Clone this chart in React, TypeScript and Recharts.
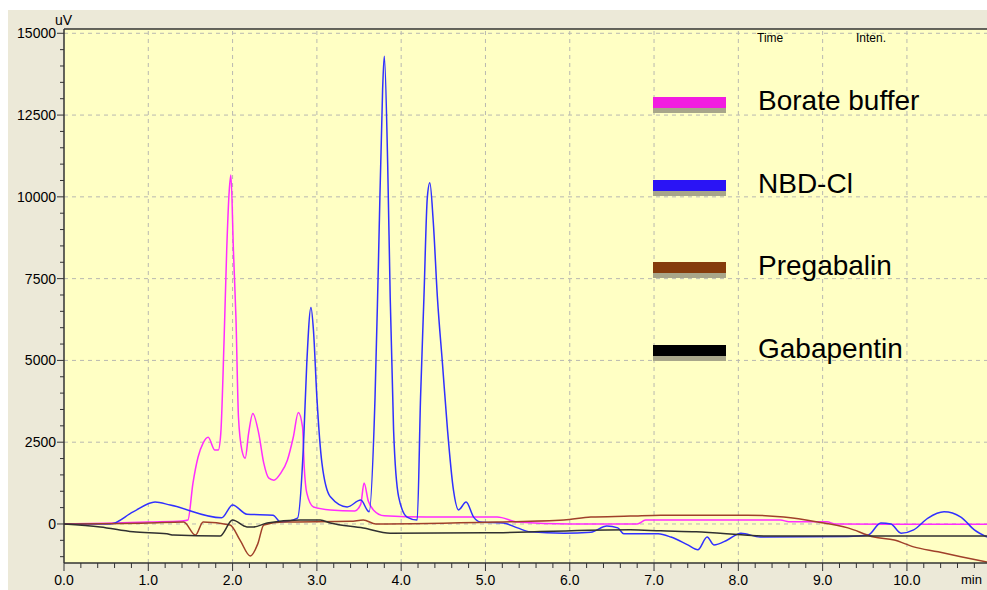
import React from "react";
import { LineChart, Line, XAxis, YAxis, ReferenceLine, ReferenceArea } from "recharts";

// retention time (min) / intensity (uV)
const borateTime = [0, 0.5, 1.0, 1.4, 1.47, 1.53, 1.59, 1.65, 1.71, 1.79, 1.83, 1.86, 1.9, 1.93, 1.96, 1.98, 2.01, 2.04, 2.07, 2.11, 2.15, 2.19, 2.24, 2.31, 2.37, 2.43, 2.49, 2.57, 2.65, 2.72, 2.78, 2.83, 2.85, 2.88, 2.96, 3.16, 3.45, 3.52, 3.56, 3.61, 3.67, 3.8, 4.3, 5.14, 5.38, 6.0, 6.8, 6.9, 8.5, 8.6, 9.05, 9.15, 10.95];
const borateValues = [0, 20, 60, 90, 120, 1250, 2040, 2470, 2650, 2260, 2260, 2770, 5700, 8350, 10180, 10670, 8350, 6300, 3260, 2260, 2010, 2770, 3380, 2770, 1860, 1400, 1340, 1550, 1950, 2650, 3410, 2960, 1740, 950, 520, 430, 400, 600, 1250, 700, 430, 250, 210, 210, 60, 0, 0, 120, 120, 70, 70, 0, -10];

const nbdTime = [0, 0.55, 0.82, 1.08, 1.26, 1.87, 2.0, 2.17, 2.48, 2.57, 2.77, 2.84, 2.88, 2.93, 2.96, 3.0, 3.06, 3.16, 3.36, 3.52, 3.62, 3.69, 3.73, 3.78, 3.8, 3.84, 3.87, 3.91, 3.97, 4.07, 4.19, 4.23, 4.27, 4.31, 4.34, 4.38, 4.43, 4.49, 4.55, 4.62, 4.68, 4.77, 4.86, 4.94, 5.21, 5.38, 5.53, 5.93, 6.25, 6.44, 6.57, 6.64, 7.05, 7.2, 7.4, 7.52, 7.63, 7.71, 7.87, 8.03, 8.26, 9.3, 9.54, 9.69, 9.81, 9.93, 10.08, 10.25, 10.44, 10.64, 10.8, 10.95];
const nbdValues = [0, 0, 370, 670, 580, 190, 580, 300, 270, 60, 180, 2350, 4900, 6620, 5900, 3870, 1860, 830, 520, 730, 370, 3870, 7960, 13300, 14300, 11000, 6920, 2870, 830, 210, 120, 3870, 6920, 9970, 10430, 9270, 6920, 4900, 2870, 1040, 430, 670, 210, 60, 30, -120, -240, -280, -250, -60, -120, -300, -300, -400, -640, -790, -400, -640, -490, -280, -400, -380, -340, 30, 0, -280, -180, 180, 370, 210, -180, -400];

const pregabalinTime = [0, 1.0, 1.42, 1.56, 1.65, 1.97, 2.09, 2.21, 2.3, 2.37, 2.6, 3.4, 3.55, 3.7, 5.14, 5.93, 6.25, 6.72, 7.08, 8.11, 8.54, 8.94, 9.3, 9.61, 9.85, 10.08, 10.37, 10.64, 10.95];
const pregabalinValues = [0, 30, 60, -340, 60, -30, -500, -980, -600, -30, 60, 80, 120, 0, 60, 120, 210, 240, 270, 270, 210, 60, -120, -400, -490, -700, -850, -1000, -1160];

const gabapentinTime = [0, 0.43, 0.82, 1.22, 1.3, 1.85, 2.0, 2.17, 2.25, 2.41, 2.8, 3.04, 3.16, 3.55, 3.87, 5.0, 6.72, 7.08, 7.5, 8.35, 10.95];
const gabapentinValues = [0, -90, -240, -300, -340, -370, 120, -90, -90, 30, 120, 120, 30, -120, -280, -270, -180, -210, -240, -370, -370];

const seriesNames = ["Borate buffer", "NBD-Cl", "Pregabalin", "Gabapentin"];
const lineColors = ["#ff2cff", "#3030ff", "#a0402a", "#303030"];
const swatchColors = ["#f21ce0", "#2a14f5", "#853c0c", "#000000"];

const xMajor = [0, 1, 2, 3, 4, 5, 6, 7, 8, 9, 10];
const yMajor = [0, 2500, 5000, 7500, 10000, 12500, 15000];
const xDomain = [0, 10.95];
const yDomain = [-1193, 15131];

const xTicks = Array.from({ length: 55 }, (_, i) => Math.round(i * 2) / 10);
const yTicks = Array.from({ length: 33 }, (_, i) => -1000 + i * 500);

const toPoints = (ts: number[], vs: number[]) => ts.map((t, i) => ({ t, v: vs[i] }));
const series = [
  toPoints(borateTime, borateValues),
  toPoints(nbdTime, nbdValues),
  toPoints(pregabalinTime, pregabalinValues),
  toPoints(gabapentinTime, gabapentinValues),
];

const FONT = "Arial, 'Liberation Sans', sans-serif";

const XTick = (props: any) => {
  const { x, y, payload } = props;
  const major = Math.abs(payload.value - Math.round(payload.value)) < 1e-6;
  return (
    <g>
      <line x1={x} x2={x} y1={y} y2={y + (major ? 8 : 5)} stroke="#333" />
      {major && (
        <text x={x} y={y + 22} textAnchor="middle" fontSize={14} fontFamily={FONT} fill="#000">
          {payload.value.toFixed(1)}
        </text>
      )}
    </g>
  );
};

const YTick = (props: any) => {
  const { x, y, payload } = props;
  const major = payload.value % 2500 === 0;
  return (
    <g>
      <line x1={x - (major ? 7 : 4)} x2={x} y1={y} y2={y} stroke="#333" />
      {major && (
        <text x={x - 8} y={y + 5} textAnchor="end" fontSize={14} fontFamily={FONT} fill="#000">
          {payload.value}
        </text>
      )}
    </g>
  );
};

export default function App() {
  return (
    <div
      style={{
        position: "absolute",
        left: 8,
        top: 10,
        width: 979,
        height: 580,
        background: "#ece9d8",
        overflow: "hidden",
        fontFamily: FONT,
      }}
    >
      <LineChart width={979} height={580} margin={{ top: 19, right: 0, left: 0, bottom: 0 }}>
        <XAxis
          dataKey="t"
          type="number"
          domain={xDomain}
          allowDataOverflow
          ticks={xTicks}
          interval={0}
          tick={<XTick />}
          tickLine={false}
          tickSize={0}
          tickMargin={0}
          height={27}
          axisLine={{ stroke: "#333", strokeWidth: 1.5 }}
        />
        <YAxis
          type="number"
          domain={yDomain}
          allowDataOverflow
          ticks={yTicks}
          interval={0}
          tick={<YTick />}
          tickLine={false}
          tickSize={0}
          tickMargin={0}
          width={56}
          axisLine={{ stroke: "#333", strokeWidth: 1.5 }}
        />
        <ReferenceArea x1={xDomain[0]} x2={xDomain[1]} y1={yDomain[0]} y2={yDomain[1]} fill="#ffffc4" fillOpacity={1} stroke="none" />
        {xMajor.slice(1).map((t) => (
          <ReferenceLine key={"gx" + t} x={t} stroke="#b8b8b0" strokeDasharray="4 4" />
        ))}
        {yMajor.map((v) => (
          <ReferenceLine key={"gy" + v} y={v} stroke="#b8b8b0" strokeDasharray="4 4" />
        ))}
        <ReferenceLine y={yDomain[1]} stroke="#333" strokeWidth={1.5} />
        {series.map((d, i) => (
          <Line
            key={seriesNames[i]}
            data={d}
            dataKey="v"
            name={seriesNames[i]}
            type="monotone"
            stroke={lineColors[i]}
            strokeWidth={1.5}
            dot={false}
            activeDot={false}
            isAnimationActive={false}
          />
        ))}
      </LineChart>

      <div style={{ position: "absolute", left: 47, top: 2, fontSize: 14, color: "#000" }}>uV</div>
      <div style={{ position: "absolute", left: 953, top: 562, fontSize: 13, color: "#000" }}>min</div>
      <div style={{ position: "absolute", left: 749, top: 21, fontSize: 12, color: "#000" }}>Time</div>
      <div style={{ position: "absolute", left: 848, top: 21, fontSize: 12, color: "#000" }}>Inten.</div>

      <div style={{ position: "absolute", left: 645, top: 87 }}>
        {seriesNames.map((name, i) => (
          <div key={name} style={{ position: "absolute", left: 0, top: i * 82.5, width: 300 }}>
            <div style={{ position: "absolute", left: 0, top: 5, width: 73, height: 11, background: "#a8a68a" }} />
            <div style={{ position: "absolute", left: 0, top: 0, width: 73, height: 11, background: swatchColors[i] }} />
            <div
              style={{
                position: "absolute",
                left: 105,
                top: -10,
                fontSize: 28,
                lineHeight: "28px",
                color: "#000",
                whiteSpace: "nowrap",
              }}
            >
              {name}
            </div>
          </div>
        ))}
      </div>
    </div>
  );
}
